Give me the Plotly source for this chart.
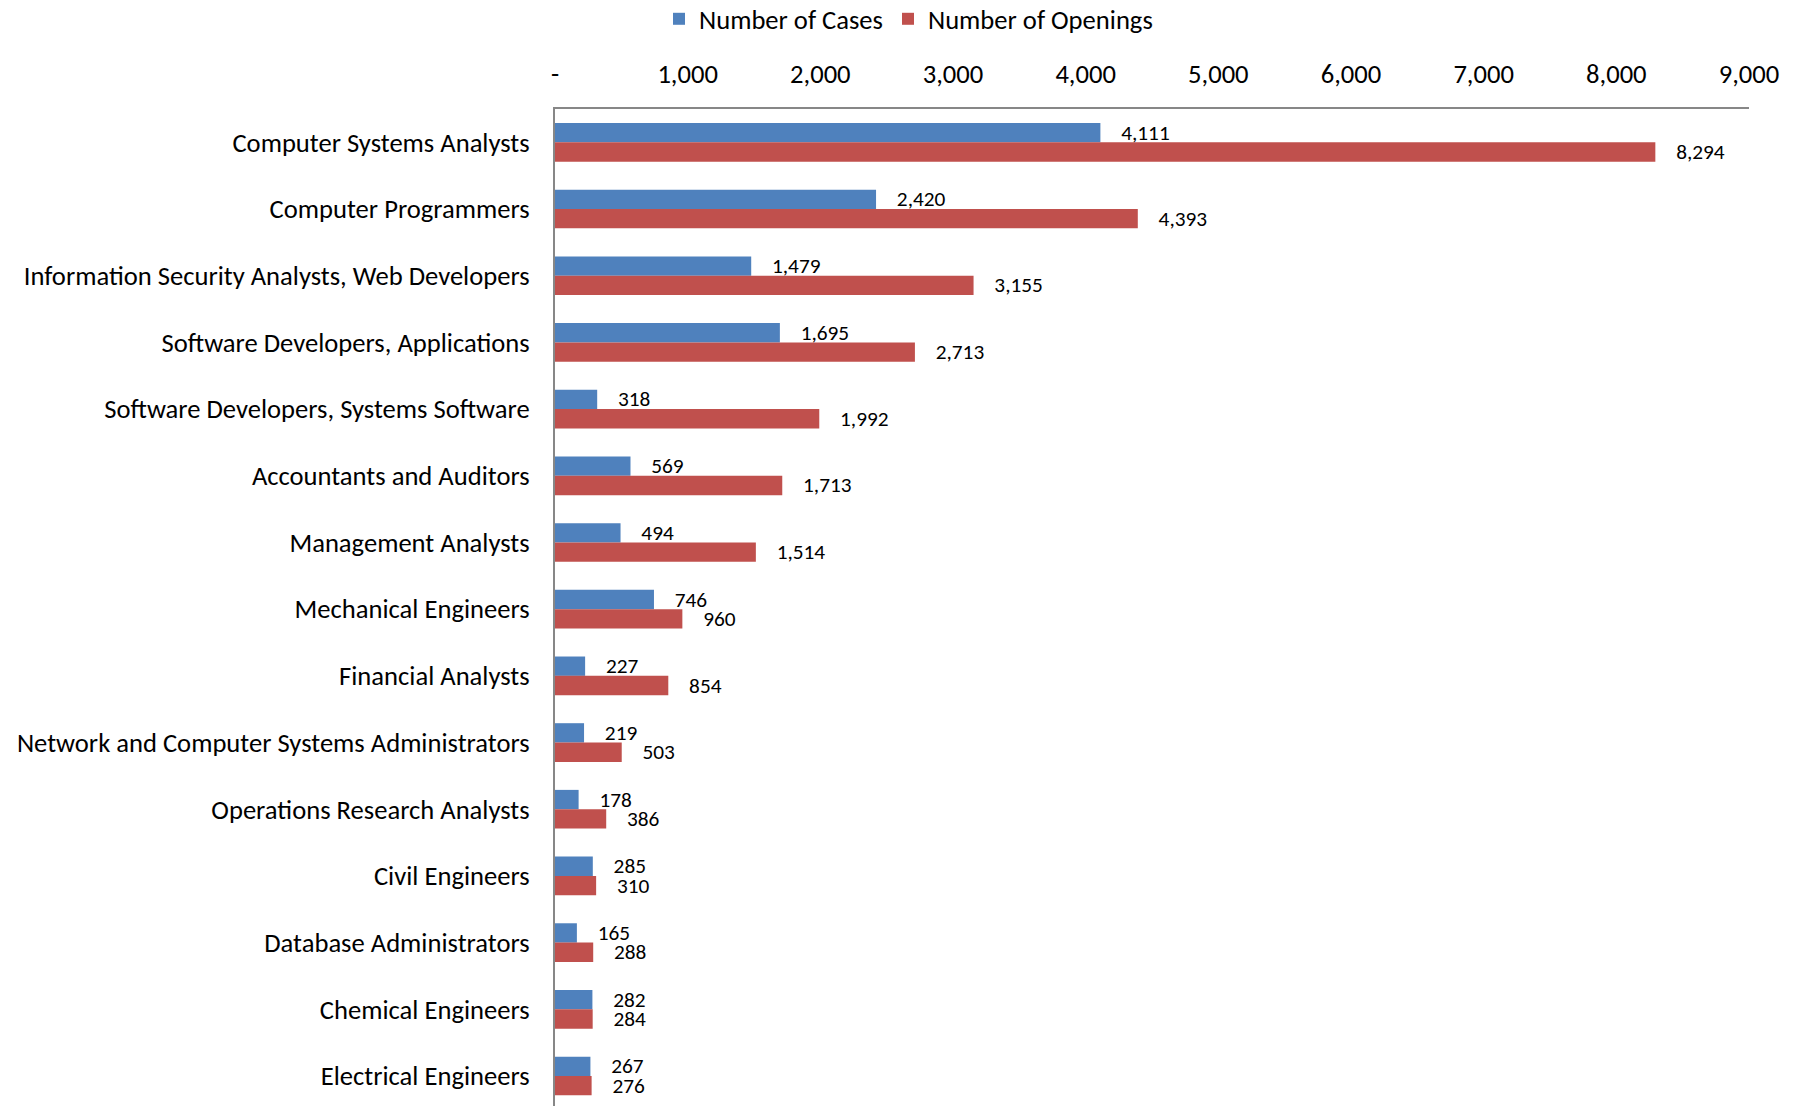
import plotly.graph_objects as go

categories = [
    "Computer Systems Analysts",
    "Computer Programmers",
    "Information Security Analysts, Web Developers",
    "Software Developers, Applications",
    "Software Developers, Systems Software",
    "Accountants and Auditors",
    "Management Analysts",
    "Mechanical Engineers",
    "Financial Analysts",
    "Network and Computer Systems Administrators",
    "Operations Research Analysts",
    "Civil Engineers",
    "Database Administrators",
    "Chemical Engineers",
    "Electrical Engineers",
]
cases = [4111, 2420, 1479, 1695, 318, 569, 494, 746, 227, 219, 178, 285, 165, 282, 267]
openings = [8294, 4393, 3155, 2713, 1992, 1713, 1514, 960, 854, 503, 386, 310, 288, 284, 276]

tick_vals = [0, 1000, 2000, 3000, 4000, 5000, 6000, 7000, 8000, 9000]
tick_text = ["-", "1,000", "2,000", "3,000", "4,000", "5,000", "6,000", "7,000", "8,000", "9,000"]

FONT = "Carlito, Lato, sans-serif"
BLUE = "#4F81BD"
RED = "#C0504D"
LABEL_SIZE = 21.3
AXIS_SIZE = 26.6

fig = go.Figure()
fig.add_trace(go.Bar(
    name="Number of Cases", y=categories, x=cases, orientation="h",
    marker=dict(color=BLUE, line=dict(width=0)),
    texttemplate="\u2002\u2004%{x:,}", textposition="outside",
    textfont=dict(family=FONT, size=LABEL_SIZE, color="black"),
    constraintext="none", cliponaxis=False,
))
fig.add_trace(go.Bar(
    name="Number of Openings", y=categories, x=openings, orientation="h",
    marker=dict(color=RED, line=dict(width=0)),
    texttemplate="\u2002\u2004%{x:,}", textposition="outside",
    textfont=dict(family=FONT, size=LABEL_SIZE, color="black"),
    constraintext="none", cliponaxis=False,
))

fig.update_layout(
    width=1801, height=1106,
    margin=dict(l=547, r=60, t=101, b=0),
    paper_bgcolor="white", plot_bgcolor="white",
    barmode="group", bargap=0.42, bargroupgap=0,
    font=dict(family=FONT, size=AXIS_SIZE, color="black"),
    showlegend=True,
    legend=dict(
        orientation="h", xref="container", yref="container",
        x=0.5, xanchor="center", y=1 - 11 / 1106, yanchor="middle",
        font=dict(family=FONT, size=AXIS_SIZE, color="black"),
        traceorder="normal",
    ),
    xaxis=dict(
        side="top", range=[0, 9000], tickvals=tick_vals, ticktext=tick_text,
        showgrid=False, zeroline=False, showline=True, linecolor="#878787",
        linewidth=2, ticks="", ticklabelstandoff=13,
        tickfont=dict(family=FONT, size=AXIS_SIZE, color="black"),
    ),
    yaxis=dict(
        type="category", range=[14.57, -0.5], showgrid=False, zeroline=False,
        showline=True, linecolor="#878787", linewidth=2, ticks="",
        ticklabelstandoff=18,
        tickfont=dict(family=FONT, size=AXIS_SIZE, color="black"),
    ),
)

fig.write_html("out.html")
